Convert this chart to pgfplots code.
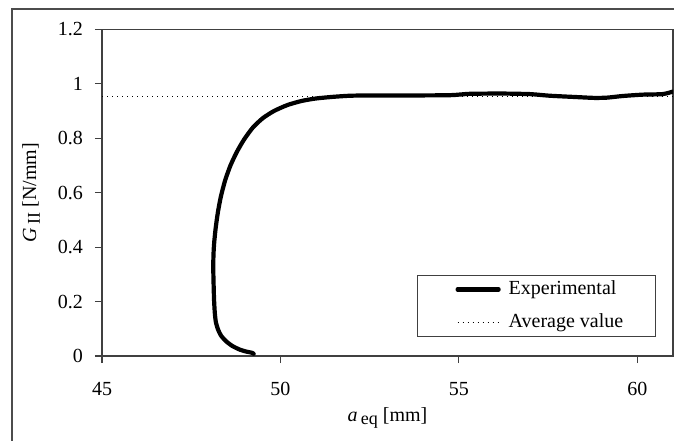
\documentclass[border=0pt]{standalone}
\usepackage{fontspec}
\setmainfont{Liberation Serif}
\usepackage{pgfplots}
\pgfplotsset{compat=1.18}
\begin{document}
\begin{tikzpicture}
\useasboundingbox (0,0) rectangle (337pt,220.5pt);
\draw[black!70, line width=0.6pt] (337pt,216pt) -- (6pt,216pt) -- (6pt,0pt);
\begin{axis}[
  at={(51pt,42.5pt)}, anchor=south west,
  scale only axis, width=285.5pt, height=163.35pt,
  xmin=45, xmax=61, ymin=0, ymax=1.2,
  xtick={45,50,55,60}, ytick={0,0.2,0.4,0.6,0.8,1,1.2},
  tick pos=left, tick align=outside, major tick length=3.5pt,
  /pgf/number format/assume math mode=true,
  axis line style={black!75, line width=0.6pt},
  every tick/.style={black!75, line width=0.6pt},
  yticklabel style={xshift=-2.5pt},
  xticklabel style={yshift=-6pt},
  xlabel={\textit{a}\,\raisebox{-0.4ex}{\small eq} [mm]},
  ylabel={\textit{G}\,\raisebox{-0.4ex}{\small II} [N/mm]},
  xlabel style={at={(axis description cs:0.5,0)}, anchor=center, yshift=-31pt},
  ylabel style={at={(axis description cs:0,0.5)}, anchor=center, yshift=35.5pt},
  legend style={at={(axis description cs:0.97,0.058)}, anchor=south east,
    draw=black!75, line width=0.6pt, inner xsep=16pt, inner ysep=2.5pt,
    nodes={inner sep=0pt, text height=7pt, text depth=2pt},
    row sep=7.5pt, column sep=4pt},
  legend cell align=left,
  legend image code/.code={\path (-3.2pt,0pt); \draw[#1] (0pt,0pt) -- (20.5pt,0pt);},
]
\addplot[black, line width=2.1pt, line join=round, line cap=round, smooth, tension=0.4] coordinates {
(49.25,0.008) (49.2,0.012) (49.05,0.016) (48.87,0.023) (48.65,0.037)
(48.47,0.055) (48.33,0.076) (48.25,0.098) (48.19,0.125) (48.16,0.16)
(48.14,0.206) (48.13,0.25) (48.12,0.304) (48.12,0.353) (48.13,0.39)
(48.15,0.426) (48.19,0.475) (48.25,0.53) (48.33,0.585) (48.45,0.645)
(48.6,0.70) (48.78,0.75) (48.98,0.795) (49.22,0.838) (49.5,0.873)
(49.82,0.900) (50.2,0.922) (50.6,0.937) (51.0,0.946) (51.48,0.952)
(51.95,0.956) (52.5,0.957) (53.5,0.957) (54.75,0.958) (55.3,0.963)
(56.2,0.964) (56.99,0.962) (57.55,0.956) (58.31,0.951) (58.8,0.948)
(59.15,0.949) (59.59,0.955) (60.15,0.960) (60.71,0.962) (60.99,0.971)
};
\addlegendentry{Experimental}
\addplot[black, line width=0.5pt, dash pattern=on 0.6pt off 1.9pt] coordinates {(45,0.955) (61,0.955)};
\addlegendentry{Average value}
\end{axis}
\end{tikzpicture}
\end{document}
